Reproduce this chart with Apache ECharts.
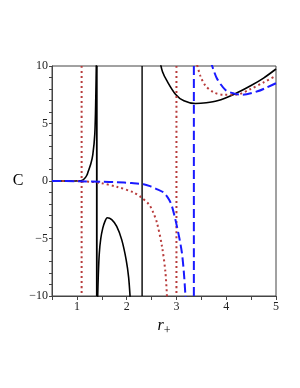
<!DOCTYPE html>
<html><head><meta charset="utf-8">
<script src="https://cdn.jsdelivr.net/npm/echarts@6/dist/echarts.min.js"></script>
<style>html,body{margin:0;padding:0;background:#fff}#c{width:300px;height:388px}</style>
</head><body><div id="c"></div>
<script>
var xTicks = [1, 2, 3, 4, 5];
var yTicks = [-10, -5, 0, 5, 10];

var blackLeft = [[0.5,0],[0.9,0],[1.05,0.02],[1.1,0.05],[1.15,0.2],[1.2,0.5],[1.23,0.86],[1.28,1.5],[1.32,2.3],[1.36,4.1],[1.38,7.3],[1.395,11]];
var blackPole1 = [[1.40,10],[1.40,-10]];
var blackArch = [[1.415,-10.5],[1.43,-8.2],[1.45,-6.3],[1.48,-5.0],[1.52,-4.1],[1.56,-3.55],[1.61,-3.2],[1.70,-3.36],[1.80,-3.95],[1.90,-5.1],[1.99,-6.85],[2.04,-8.4],[2.075,-10.5]];
var blackPole2 = [[2.31,10],[2.31,-10]];
var blackRight = [[2.665,10.5],[2.72,9.5],[2.81,8.7],[2.98,7.55],[3.15,6.97],[3.38,6.74],[3.6,6.8],[3.82,6.97],[4.16,7.55],[4.49,8.28],[4.75,8.95],[5,9.74]];

var redLeft = [[0.5,0],[1.0,0],[1.1,-0.03],[1.3,-0.08],[1.46,-0.16],[1.8,-0.5],[2.14,-1.0],[2.3,-1.45],[2.45,-2.05],[2.53,-2.7],[2.61,-3.65],[2.71,-5.7],[2.78,-8],[2.815,-10.5]];
var redPole1 = [[1.095,10],[1.095,-10]];
var redPole2 = [[3.0,10],[3.0,-10]];
var redRight = [[3.39,10.5],[3.48,9.15],[3.58,8.3],[3.75,7.7],[3.95,7.5],[4.19,7.5],[4.49,8.0],[4.76,8.6],[5,9.15]];

var blueLeft = [[0.5,0],[1.0,-0.02],[1.5,-0.06],[1.8,-0.1],[2.1,-0.18],[2.34,-0.28],[2.47,-0.45],[2.6,-0.7],[2.74,-1.0],[2.85,-1.6],[2.91,-2.2],[2.97,-3.2],[3.01,-3.95],[3.06,-5],[3.11,-6.25],[3.15,-8],[3.18,-9.9],[3.19,-10.5]];
var bluePole = [[3.35,10],[3.35,-10]];
var blueRight = [[3.68,10.5],[3.75,9.6],[3.82,8.86],[3.99,7.9],[4.16,7.6],[4.33,7.5],[4.63,7.8],[4.8,8.1],[5,8.5]];

var BLACK = '#000000', RED = '#b83c3c', BLUE = '#1a1aff';
function s(data, color, type, width) {
  return {type:'line', data:data, showSymbol:false, symbol:'none', smooth:0.3, clip:true,
    lineStyle:{color:color, width:width, type:type}, animation:false, z:2};
}
var blackStyle = 'solid', redStyle = [2,3], blueStyle = [9,4];
var series = [
  s(blackLeft, BLACK, blackStyle, 1.6), s(blackPole1, BLACK, blackStyle, 1.8), s(blackArch, BLACK, blackStyle, 1.6),
  s(blackPole2, BLACK, blackStyle, 1.4), s(blackRight, BLACK, blackStyle, 1.6),
  s(redLeft, RED, redStyle, 2), s(redPole1, RED, redStyle, 2), s(redPole2, RED, redStyle, 2), s(redRight, RED, redStyle, 2),
  s(blueLeft, BLUE, blueStyle, 2), s(bluePole, BLUE, blueStyle, 2), s(blueRight, BLUE, blueStyle, 2)
];
var chart = echarts.init(document.getElementById('c'), null, {renderer:'canvas'});
var font = "'Liberation Serif', 'DejaVu Serif', serif";
chart.setOption({
  animation:false,
  grid:{left:52, right:24, top:66, bottom:92, show:true, borderColor:'#444', borderWidth:1},
  xAxis:{type:'value', min:0.5, max:5, interval:0.5,
    axisLine:{show:true, onZero:false, lineStyle:{color:'#444'}},
    axisTick:{show:true, inside:false, length:4, lineStyle:{color:'#444'}},
    minorTick:{show:false},
    splitLine:{show:false},
    axisLabel:{fontFamily:font, fontSize:12, color:'#222', margin:5,
      formatter:function(v){ return xTicks.indexOf(v) >= 0 ? String(v) : ''; }},
    name:'{i|r}{s|+}', nameLocation:'middle', nameGap:17,
    nameTextStyle:{rich:{i:{fontFamily:font, fontStyle:'italic', fontSize:16, color:'#000'},
      s:{fontFamily:font, fontSize:12, color:'#000', padding:[10,0,0,0]}}}
  },
  yAxis:{type:'value', min:-10, max:10, interval:1,
    axisLine:{show:true, onZero:false, lineStyle:{color:'#444'}},
    axisTick:{show:true, inside:false, length:3, lineStyle:{color:'#444'}},
    splitLine:{show:false},
    axisLabel:{fontFamily:font, fontSize:12, color:'#222', margin:4,
      formatter:function(v){ return yTicks.indexOf(v) >= 0 ? (v<0 ? '\u2212'+(-v) : String(v)) : ''; }},
    name:'C', nameLocation:'middle', nameGap:26, nameRotate:0,
    nameTextStyle:{fontFamily:font, fontSize:16, color:'#000'}
  },
  series:series
});
</script></body></html>
